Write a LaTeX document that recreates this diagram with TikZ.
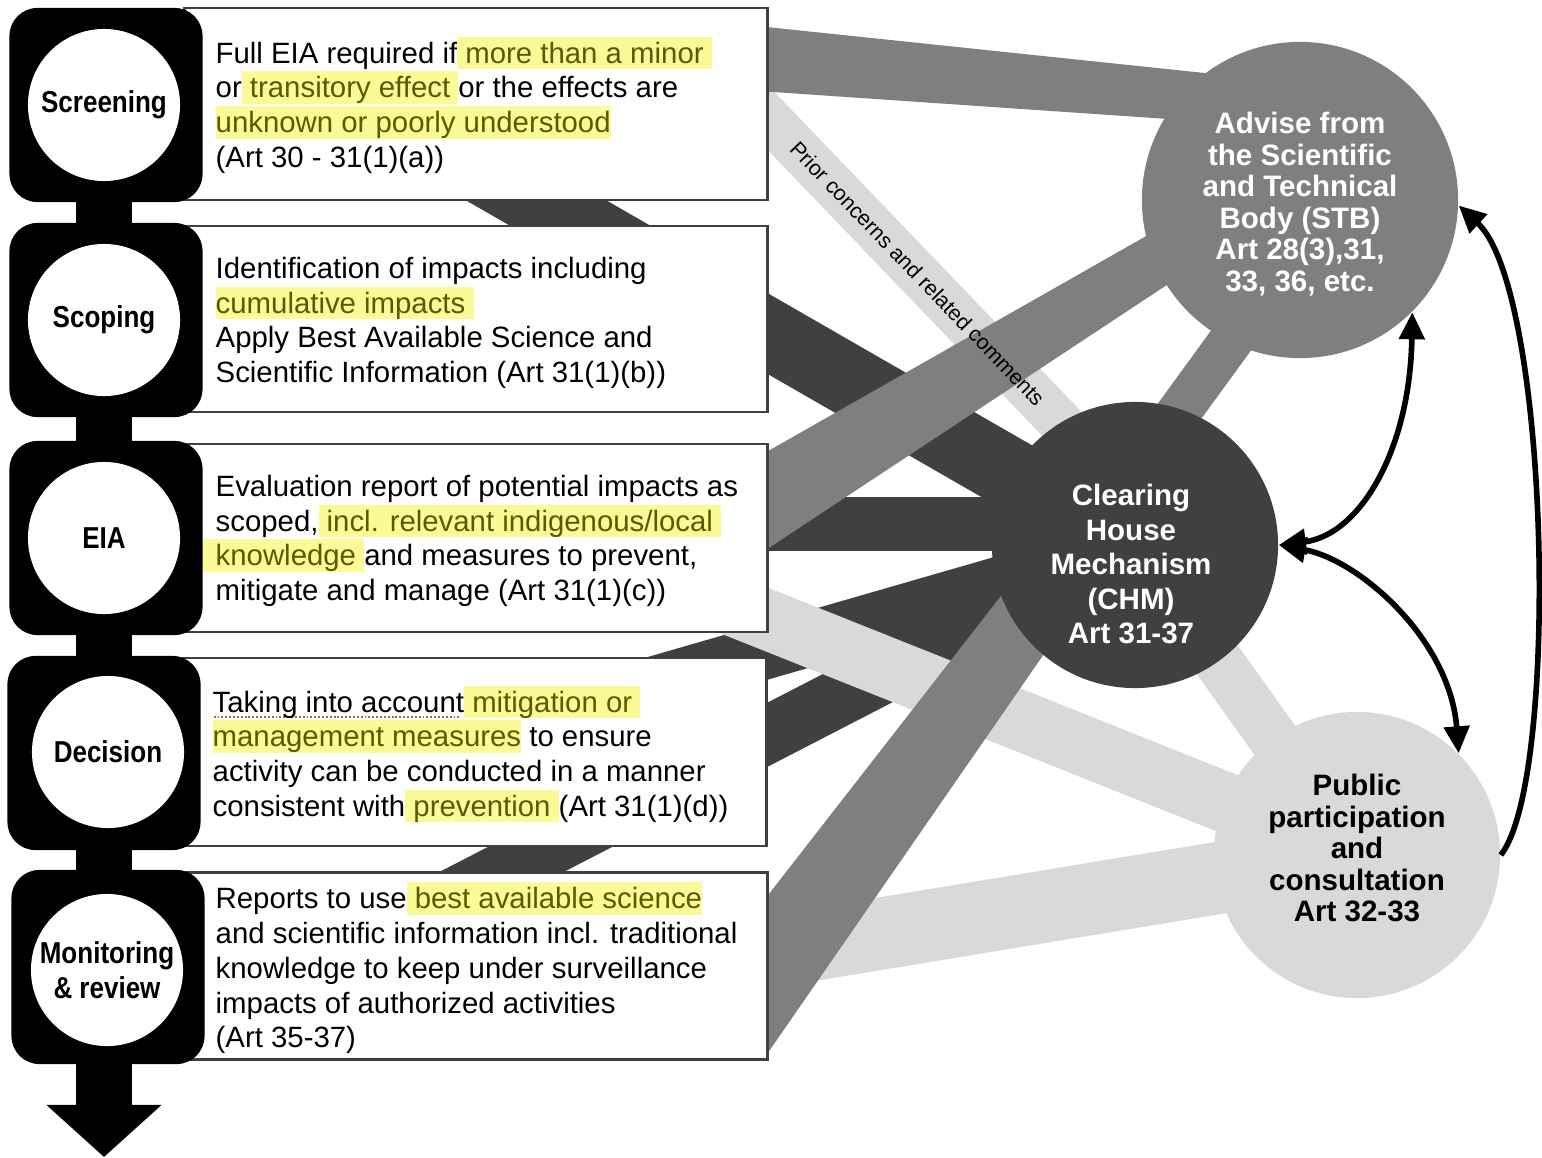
\documentclass[tikz,border=0pt]{standalone}
\usepackage{fontspec}
\setmainfont{Liberation Sans}
\newfontfamily\stagefont[FakeStretch=0.86]{Liberation Sans}
\usetikzlibrary{arrows.meta,backgrounds}

\definecolor{chmgray}{HTML}{404040}
\definecolor{stbgray}{HTML}{7F7F7F}
\definecolor{ppgray}{HTML}{D9D9D9}
\definecolor{hlyellow}{HTML}{FBFA96}
\definecolor{hlink}{HTML}{5C5A00}
\definecolor{spellbrown}{HTML}{B5651D}

\newsavebox{\spellbox}
\newcommand{\hlt}[1]{{\setlength{\fboxsep}{0pt}\colorbox{hlyellow}{\color{hlink}\rule[-1.7pt]{0pt}{9.3pt}#1}}}
\newcommand{\spell}[1]{\sbox{\spellbox}{#1}\rlap{\color{spellbrown}\raisebox{-1.6pt}{\hbox to \wd\spellbox{\leaders\hbox to 1.1pt{\hss\rule{0.55pt}{0.55pt}\hss}\hfill}}}\usebox{\spellbox}}

\begin{document}
\begin{tikzpicture}[x=0.01cm, y=-0.01cm,
  stagebox/.style={fill=black, rounded corners=0.28cm, minimum width=1.93cm, minimum height=1.94cm, inner sep=0pt},
  stage/.style={circle, fill=white, minimum size=1.52cm, inner sep=0pt, align=center,
    font=\stagefont\bfseries\fontsize{8.6}{10}\selectfont},
  infobox/.style={draw=chmgray, line width=0.8pt, fill=white, inner sep=0pt, minimum width=5.83cm},
  infotext/.style={anchor=west, inner sep=0pt, align=left, font=\fontsize{8.35}{9.87}\selectfont},
  hub/.style={circle, inner sep=0pt},
  hubtext/.style={align=center, inner sep=0pt, font=\bfseries\fontsize{8.4}{8.96}\selectfont},
  band/.style={line cap=butt},
  spine/.style={line width=0.55cm, black},
  link/.style={line width=1.6pt, black},
  tip/.tip={Triangle[length=0.27cm, width=0.25cm]}
]
\useasboundingbox (0,0) rectangle (1542,1157);

\node[infobox, minimum height=1.92cm] (scrbox) at (476,104) {};
\node[infobox, minimum height=1.86cm] (scpbox) at (476,319) {};
\node[infobox, minimum height=1.88cm] (eiabox) at (476,538) {};
\node[infobox, minimum height=1.88cm, minimum width=5.87cm] (decbox) at (473,752) {};
\node[infobox, minimum height=1.87cm] (monbox) at (476,966) {};

\node[infotext] (scrtxt) at (215,105) {Full EIA required if\hlt{ more than a minor }\\or\hlt{ transitory effect }or the effects are\\\hlt{unknown or poorly understood}\\(Art 30 - 31(1)(a))};
\node[infotext] (scptxt) at (215,323) {Identification of impacts including\\\hlt{cumulative impacts }\\Apply Best Available Science and\\Scientific Information (Art 31(1)(b))};
\node[infotext] (eiatxt) at (215,541) {Evaluation report of potential impacts as\\scoped,\hlt{ incl. relevant indigenous/local }\\\hspace*{-0.13cm}\hlt{\hspace*{0.13cm}knowledge }and measures to prevent,\\mitigate and manage (Art 31(1)(c))};
\node[infotext] (dectxt) at (212,754) {\spell{Taking into account}\hlt{ mitigation or }\\\hlt{management measures} to ensure\\activity can be conducted in a manner\\consistent with\hlt{ prevention }(Art 31(1)(d))};
\node[infotext] (montxt) at (215,968) {Reports to use\hlt{ best available science}\\and scientific information incl. traditional\\knowledge to keep under surveillance\\impacts of authorized activities\\(Art 35-37)};

\node[stagebox] (scrsq) at (106,105) {};
\node[stage] (scr) at (104,105) {Screening};
\node[stagebox] (scpsq) at (106,320) {};
\node[stage] (scp) at (104,320) {Scoping};
\node[stagebox] (eiasq) at (106,538) {};
\node[stage] (eia) at (104,538) {EIA};
\node[stagebox] (decsq) at (104,753) {};
\node[stage] (dec) at (108,752) {Decision};
\node[stagebox] (monsq) at (108,967) {};
\node[stage] (mon) at (107,970) {Monitoring\\\& review};
\coordinate (flowend) at (104,1157);

\node[hub, fill=stbgray, minimum size=3.16cm] (stb) at (1300,200) {};
\node[hub, fill=chmgray, minimum size=2.86cm] (chm) at (1135,545) {};
\node[hub, fill=ppgray, minimum size=2.86cm] (pp) at (1357,855) {};
\node[hubtext, text=white] (stbtxt) at (1300,204) {Advise from\\the Scientific\\and Technical\\Body (STB)\\Art 28(3),31,\\33, 36, etc.};
\node[hubtext, text=white, font=\bfseries\fontsize{8.4}{9.8}\selectfont] (chmtxt) at (1131,564) {Clearing\\House\\Mechanism\\(CHM)\\Art 31-37};
\node[hubtext] (pptxt) at (1357,848) {Public\\participation\\and\\consultation\\Art 32-33};

\draw[link, tip-tip] (stb.-45) .. controls (1410,450) and (1360,535) .. (chm.east);
\draw[link, tip-tip] (chm.east) .. controls (1360,560) and (1450,640) .. (pp.45);
\draw[link, -tip] (pp.east) .. controls (1560,780) and (1550,290) .. (stb.-2);

\coordinate (d1) at (400,122);
\coordinate (d2) at (400,524);
\coordinate (d3) at (300,786);
\coordinate (d4) at (300,976);
\coordinate (l1a) at (700,47);
\coordinate (l1b) at (1135,500);
\coordinate (l2) at (600,553);
\coordinate (l3) at (600,980);
\coordinate (m1a) at (700,20);
\coordinate (m1b) at (1300,83);
\coordinate (m1c) at (1300,128);
\coordinate (m1d) at (700,87);
\coordinate (m2a) at (740,467);
\coordinate (m2b) at (1250,177);
\coordinate (m2c) at (1250,230);
\coordinate (m2d) at (740,567);
\coordinate (m3a) at (1082,545);
\coordinate (m3b) at (1297,250);
\coordinate (m4a) at (765,899);
\coordinate (m4b) at (1029,560);
\coordinate (m4c) at (1109,560);
\coordinate (m4d) at (765,1057);

\begin{scope}[on background layer]
\draw[spine, -{Triangle[length=0.52cm, width=1.12cm]}] (scr.center) -- (flowend);
\draw[band, chmgray, line width=0.70cm] (d1) -- (chm.center);
\draw[band, chmgray, line width=0.54cm] (d2) -- (d2 -| chm.center);
\draw[band, chmgray, line width=0.55cm] (d3) -- (chm.center);
\draw[band, chmgray, line width=0.57cm] (d4) -- (chm.center);
\draw[band, ppgray, line width=0.60cm] (l2) -- (pp.center);
\draw[band, ppgray, line width=0.72cm] (l3) -- (pp.center);
\draw[band, ppgray, line width=0.50cm] (chm.center) -- (pp.center);
\draw[band, ppgray, line width=0.45cm] (l1a) -- (l1b);
\fill[stbgray] (m1a) -- (m1b) -- (m1c) -- (m1d) -- cycle;
\fill[stbgray] (m2a) -- (m2b) -- (m2c) -- (m2d) -- cycle;
\draw[band, stbgray, line width=0.44cm] (m3a) -- (m3b);
\fill[stbgray] (m4a) -- (m4b) -- (m4c) -- (m4d) -- cycle;
\end{scope}
\path (l1a) -- node[sloped, font=\fontsize{6.1}{7}\selectfont, text=black] (priortxt) {Prior concerns and related comments} (l1b);
\end{tikzpicture}
\end{document}
